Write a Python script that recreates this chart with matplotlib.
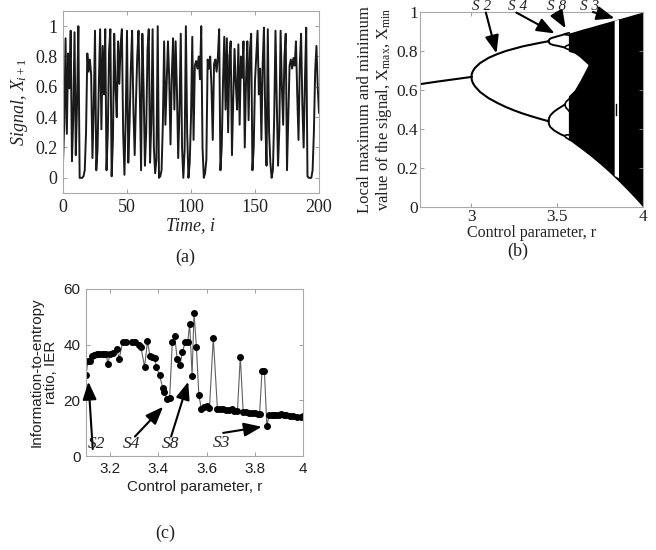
import numpy as np
import matplotlib
matplotlib.use('Agg')
import matplotlib.pyplot as plt

plt.rcParams['mathtext.fontset'] = 'custom'
plt.rcParams['mathtext.rm'] = 'Liberation Serif'
plt.rcParams['mathtext.it'] = 'Liberation Serif:italic'

# ---------------- (a) time series ----------------
signal = [0.10, 0.36, 0.92, 0.29, 0.82, 0.59, 0.97, 0.11, 0.40, 0.96,
          0.15, 0.50, 1.00, 0.00, 0.00, 0.00, 0.01, 0.05, 0.30, 0.82,
          0.70, 0.78, 0.68, 0.13, 0.45, 0.97, 0.05, 0.19, 0.62, 0.98,
          0.32, 0.87, 0.55, 0.98, 0.05, 0.30, 0.84, 0.98, 0.01, 0.25,
          0.95, 0.60, 0.40, 0.90, 0.62, 0.88, 0.98, 0.30, 0.02, 0.40,
          0.97, 0.10, 0.36, 0.72, 0.97, 0.45, 0.15, 0.50, 0.80, 0.97,
          0.55, 0.05, 0.95, 0.58, 0.08, 0.30, 0.84, 0.98, 0.10, 0.36,
          0.98, 0.20, 0.03, 0.12, 1.00, 0.00, 0.01, 0.05, 0.35, 0.90,
          0.35, 0.62, 0.90, 0.65, 0.22, 0.68, 0.92, 0.45, 0.90, 0.58,
          0.13, 0.45, 0.95, 0.20, 0.00, 0.18, 1.00, 0.30, 0.00, 0.10,
          0.40, 0.93, 0.25, 0.74, 0.77, 0.72, 0.80, 0.65, 1.00, 0.20,
          0.00, 0.03, 0.12, 0.78, 0.72, 0.80, 0.60, 0.25, 0.75, 0.78,
          0.70, 0.80, 0.98, 0.05, 0.20, 0.63, 0.93, 0.45, 0.92, 0.30,
          0.80, 0.90, 0.15, 0.52, 0.85, 0.62, 0.45, 0.88, 0.35, 0.80,
          0.66, 0.90, 0.20, 0.64, 0.90, 0.38, 0.84, 0.95, 0.05, 0.20,
          0.64, 0.80, 0.97, 0.55, 0.72, 0.25, 0.75, 0.99, 0.40, 0.08,
          0.98, 0.30, 0.10, 0.00, 0.05, 0.40, 0.97, 0.50, 0.08, 0.32,
          0.97, 0.60, 0.35, 0.80, 0.95, 0.05, 0.40, 0.74, 0.78, 0.72,
          0.79, 0.74, 0.90, 0.55, 0.25, 0.75, 0.95, 0.48, 0.20, 0.64,
          0.99, 0.01, 0.00, 0.00, 0.00, 0.05, 0.30, 0.70, 0.87, 0.60,
          0.43]
time = np.arange(len(signal))

# ---------------- (b) bifurcation diagram ----------------
r_p1 = [2.7, 2.8, 2.9, 3.0]
x_p1 = [0.630, 0.643, 0.655, 0.667]
r_p2 = [3.0, 3.002, 3.005, 3.01, 3.02, 3.05, 3.1, 3.15, 3.2, 3.25, 3.3, 3.35, 3.4, 3.449]
x_p2_up = [0.667, 0.682, 0.690, 0.699, 0.713, 0.738, 0.765, 0.784, 0.800, 0.812, 0.824, 0.833, 0.842, 0.850]
x_p2_lo = [0.667, 0.652, 0.643, 0.633, 0.619, 0.590, 0.558, 0.534, 0.513, 0.495, 0.479, 0.465, 0.452, 0.440]
r_p4 = [3.449, 3.452, 3.46, 3.48, 3.50, 3.52, 3.544]
x_p4 = [[0.850, 0.857, 0.864, 0.870, 0.875, 0.880, 0.886],
        [0.850, 0.843, 0.836, 0.830, 0.827, 0.823, 0.818],
        [0.440, 0.455, 0.470, 0.488, 0.501, 0.512, 0.525],
        [0.440, 0.424, 0.410, 0.394, 0.383, 0.373, 0.364]]
r_p8 = [3.544, 3.552, 3.564, 3.570]
x_p8 = [[0.886, 0.890, 0.892, 0.893], [0.886, 0.883, 0.882, 0.880],
        [0.818, 0.826, 0.830, 0.832], [0.818, 0.812, 0.809, 0.806],
        [0.525, 0.540, 0.550, 0.555], [0.525, 0.508, 0.497, 0.490],
        [0.364, 0.370, 0.370, 0.369], [0.364, 0.355, 0.349, 0.345]]
r_chaos = [3.565, 3.6, 3.65, 3.7, 3.75, 3.8, 3.85, 3.9, 3.95, 4.0]
chaos_up = [0.891, 0.900, 0.913, 0.925, 0.938, 0.950, 0.963, 0.975, 0.988, 1.0]
chaos_lo = [0.346, 0.324, 0.291, 0.257, 0.220, 0.181, 0.139, 0.095, 0.049, 0.0]
r_gap = [3.560, 3.6, 3.63, 3.65, 3.67, 3.68]
gap_lo = [0.565, 0.600, 0.645, 0.678, 0.712, 0.730]
gap_hi = [0.800, 0.789, 0.770, 0.754, 0.738, 0.730]
r_win = [3.832, 3.857]
win_lo = [0.162, 0.150]
win_hi = [0.958, 0.962]

# ---------------- (c) IER ----------------
r_ier = [3.100, 3.108, 3.115, 3.125, 3.135, 3.145, 3.155, 3.165, 3.175, 3.185,
         3.190, 3.200, 3.213, 3.227, 3.238, 3.252, 3.265, 3.290, 3.303, 3.318,
         3.328, 3.343, 3.355, 3.365, 3.375, 3.385, 3.392, 3.405, 3.418, 3.425,
         3.437, 3.447, 3.458, 3.468, 3.478, 3.490, 3.500, 3.512, 3.522, 3.530,
         3.540, 3.548, 3.558, 3.568, 3.578, 3.590, 3.602, 3.612, 3.628, 3.645,
         3.655, 3.668, 3.680, 3.692, 3.705, 3.715, 3.728, 3.740, 3.752, 3.763,
         3.775, 3.790, 3.800, 3.812, 3.820, 3.830, 3.840, 3.850, 3.860, 3.870,
         3.880, 3.890, 3.900, 3.910, 3.920, 3.930, 3.945, 3.960, 3.975, 3.990,
         4.000]
ier = [29, 34, 34, 36, 36.3, 36.5, 36.5, 36.5, 36.6, 36.6,
       33, 36.8, 37, 38.5, 35, 41, 41, 41, 41, 40,
       39, 32, 41.3, 36, 35.5, 35.2, 32, 29, 24.5, 23,
       20.3, 21, 41, 43, 35, 32.7, 37.5, 41, 41, 47.5,
       28.8, 51.5, 39, 22, 17, 17.5, 17.8, 17.2, 42.5, 17,
       17, 16.8, 16.5, 16.6, 16.8, 16.3, 16, 35.7, 15.7, 15.7,
       15.6, 15.6, 15.4, 15.2, 15, 30.6, 30.5, 10.9, 14.7, 14.7,
       14.6, 14.6, 14.8, 15, 14.8, 14.6, 14.4, 14.3, 14, 14,
       14.2]

c_labels = ['S2', 'S4', 'S8', 'S3']

SERIF = 'Liberation Serif'
SANS = 'Liberation Sans'
TXT = '#222222'

fig = plt.figure(figsize=(6.56, 5.5), dpi=100)
W, H = 656.0, 550.0
axa = fig.add_axes([63 / W, 1 - 193 / H, 256 / W, 182 / H])
axb = fig.add_axes([420 / W, 1 - 207 / H, 223 / W, 195 / H])
axc = fig.add_axes([86 / W, 1 - 456 / H, 217 / W, 167 / H])


def style(ax, size, pad=4):
    for s in ax.spines.values():
        s.set_color('#a8a8a8')
        s.set_linewidth(0.8)
    ax.tick_params(direction='in', length=3, width=0.6, color='#909090',
                   top=True, right=True, labelsize=size, labelcolor=TXT, pad=pad)


# (a)
axa.plot(time, signal, color='#1a1a1a', lw=1.4)
axa.set_xlim(0, 200)
axa.set_ylim(-0.1, 1.1)
axa.set_xticks([0, 50, 100, 150, 200])
axa.set_xticklabels(['0', '50', '100', '150', '200'], fontfamily=SERIF)
axa.set_yticks([0, 0.2, 0.4, 0.6, 0.8, 1.0])
axa.set_yticklabels(['0', '0.2', '0.4', '0.6', '0.8', '1'], fontfamily=SERIF)
style(axa, 13)
axa.set_xlabel('Time, i', fontfamily=SERIF, style='italic', fontsize=13, color=TXT, labelpad=1)
axa.set_ylabel(r'Signal, $X_{i+1}$', fontfamily=SERIF, style='italic', fontsize=13, color=TXT, labelpad=4)
fig.text(185 / W, 1 - 257 / H, '(a)', fontfamily=SERIF, fontsize=13, color=TXT, ha='center', va='center')

# (b)
axb.plot(r_p1, x_p1, color='black', lw=1.5)
axb.plot(r_p2, x_p2_up, color='black', lw=1.5)
axb.plot(r_p2, x_p2_lo, color='black', lw=1.5)
for xs in x_p4:
    axb.plot(r_p4, xs, color='black', lw=1.4)
for xs in x_p8:
    axb.plot(r_p8, xs, color='black', lw=1.2)
axb.fill_between(r_chaos, chaos_lo, chaos_up, color='black', lw=0)
axb.fill_between(r_gap, gap_lo, gap_hi, color='white', lw=0)
axb.fill_between(r_win, win_lo, win_hi, color='white', lw=0)
axb.plot([np.mean(r_win)] * 2, [0.47, 0.53], color='black', lw=1)
axb.set_xlim(2.7, 4.0)
axb.set_ylim(0, 1)
axb.set_xticks([3, 3.5, 4])
axb.set_xticklabels(['3', '3.5', '4'], fontfamily=SERIF)
axb.set_yticks([0, 0.2, 0.4, 0.6, 0.8, 1.0])
axb.set_yticklabels(['0', '0.2', '0.4', '0.6', '0.8', '1'], fontfamily=SERIF)
style(axb, 12.5, pad=1.5)
axb.set_xlabel('Control parameter, r', fontfamily=SERIF, fontsize=11.5, color=TXT, labelpad=0)
axb.set_ylabel('Local maximum and minimum\n' + r'value of the signal, X$_{\rm max}$, X$_{\rm min}$',
               fontfamily=SERIF, fontsize=12, color=TXT, labelpad=2, linespacing=1.05)
fig.text(518 / W, 1 - 251 / H, '(b)', fontfamily=SERIF, fontsize=13, color=TXT, ha='center', va='center')

b_tails = [(3.084, 0.997), (3.262, 0.997), (3.495, 0.997), (3.708, 1.0)]
b_tips = [(3.146, 0.788), (3.485, 0.89), (3.549, 0.916), (3.834, 0.968)]
b_text = [(3.06, 1.03), (3.27, 1.03), (3.497, 1.03), (3.69, 1.03)]
for lab, tail, tip, tp in zip(c_labels, b_tails, b_tips, b_text):
    axb.annotate('', xy=tip, xytext=tail, annotation_clip=False,
                 arrowprops=dict(arrowstyle='-|>,head_length=0.9,head_width=0.35',
                                 color='black', lw=1.5, shrinkA=0, shrinkB=0, mutation_scale=12))
    axb.text(tp[0], tp[1], lab[0] + ' ' + lab[1], fontfamily=SERIF, style='italic', fontsize=11,
             color=TXT, ha='center', va='center', clip_on=False)

# (c)
axc.plot(r_ier, ier, color='#606060', lw=0.8, marker='o', ms=4.0,
         mfc='black', mec='black')
axc.set_xlim(3.1, 4.0)
axc.set_ylim(0, 60)
axc.set_xticks([3.2, 3.4, 3.6, 3.8, 4.0])
axc.set_xticklabels(['3.2', '3.4', '3.6', '3.8', '4'], fontfamily=SANS)
axc.set_yticks([0, 20, 40, 60])
axc.set_yticklabels(['0', '20', '40', '60'], fontfamily=SANS)
style(axc, 11)
axc.set_xlabel('Control parameter, r', fontfamily=SANS, fontsize=11, color=TXT, labelpad=3)
axc.set_ylabel('Information-to-entropy\nratio, IER', fontfamily=SANS, fontsize=11, color=TXT,
               labelpad=4, linespacing=1.05)
fig.text(165 / W, 1 - 533 / H, '(c)', fontfamily=SERIF, fontsize=13, color=TXT, ha='center', va='center')

c_tails = [(3.128, 2.5), (3.303, 7.0), (3.453, 7.0), (3.669, 8.3)]
c_tips = [(3.11, 26.7), (3.42, 17.7), (3.524, 26.7), (3.829, 10.5)]
c_text = [(3.144, 4.3), (3.29, 4.3), (3.449, 4.3), (3.663, 4.7)]
for lab, tail, tip, tp in zip(c_labels, c_tails, c_tips, c_text):
    axc.annotate('', xy=tip, xytext=tail, annotation_clip=False,
                 arrowprops=dict(arrowstyle='-|>,head_length=0.9,head_width=0.35',
                                 color='black', lw=1.5, shrinkA=0, shrinkB=0, mutation_scale=12))
    axc.text(tp[0], tp[1], lab, fontfamily=SERIF, style='italic', fontsize=12.5,
             color=TXT, ha='center', va='center')

fig.savefig('out.png', dpi=100)
